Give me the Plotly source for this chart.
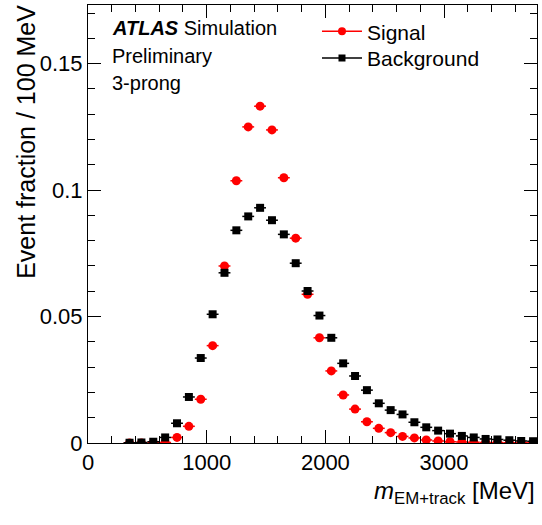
import plotly.graph_objects as go

mass_centers = [350, 450, 550, 650, 750, 850, 950, 1050, 1150, 1250, 1350, 1450,
                1550, 1650, 1750, 1850, 1950, 2050, 2150, 2250, 2350, 2450, 2550,
                2650, 2750, 2850, 2950, 3050, 3150, 3250, 3350, 3450, 3550, 3650, 3750]
bin_half_width = 50

signal = [0.0, 0.0, 0.0001, 0.0002, 0.0022, 0.0066, 0.0173, 0.0385, 0.0700, 0.1037,
          0.1250, 0.1332, 0.1238, 0.1049, 0.0810, 0.0588, 0.0416, 0.0285, 0.0190,
          0.0134, 0.0084, 0.0058, 0.0041, 0.0026, 0.0020, 0.0012, 0.0008, 0.0005,
          0.0004, 0.0003, 0.0002, 0.0002, 0.0001, 0.0001, 0.0001]

background = [0.0001, 0.0002, 0.0005, 0.0022, 0.0078, 0.0182, 0.0336, 0.0509, 0.0673,
              0.0841, 0.0896, 0.0930, 0.0881, 0.0825, 0.0711, 0.0601, 0.0504, 0.0416,
              0.0315, 0.0265, 0.0209, 0.0157, 0.0130, 0.0113, 0.0082, 0.0062, 0.0049,
              0.0037, 0.0028, 0.0022, 0.0016, 0.0014, 0.0011, 0.0008, 0.0007]

FONT = "Liberation Sans, Arial, Helvetica, sans-serif"

fig = go.Figure()

fig.add_trace(go.Scatter(
    x=mass_centers, y=signal, mode="markers", name="Signal", showlegend=False,
    marker=dict(symbol="circle", size=9, color="#ff0000", line=dict(width=0)),
    error_x=dict(type="constant", value=bin_half_width, width=0, thickness=1.5, color="#ff0000"),
))
fig.add_trace(go.Scatter(
    x=mass_centers, y=background, mode="markers", name="Background", showlegend=False,
    marker=dict(symbol="square", size=8, color="black", line=dict(width=0)),
    error_x=dict(type="constant", value=bin_half_width, width=0, thickness=1.5, color="black"),
))
# legend entries (line + marker, as in the reference legend)
fig.add_trace(go.Scatter(
    x=[None], y=[None], mode="lines+markers", name="Signal", legend="legend",
    marker=dict(symbol="circle", size=8, color="#ff0000"),
    line=dict(color="#ff0000", width=1.5),
))
fig.add_trace(go.Scatter(
    x=[None], y=[None], mode="lines+markers", name="Background", legend="legend2",
    marker=dict(symbol="square", size=7, color="black"),
    line=dict(color="black", width=1.5),
))

axis_common = dict(
    showline=True, linecolor="black", linewidth=1, mirror="allticks",
    ticks="inside", ticklen=13, tickwidth=1, tickcolor="black",
    showgrid=False, zeroline=False,
    tickfont=dict(family=FONT, size=22, color="black"),
)

fig.update_xaxes(range=[0, 3783], tick0=0, dtick=1000,
                 minor=dict(dtick=200, ticks="inside", ticklen=7, tickcolor="black", showgrid=False),
                 **axis_common)
fig.update_yaxes(range=[0, 0.1732], tick0=0, dtick=0.05,
                 minor=dict(dtick=0.01, ticks="inside", ticklen=7, tickcolor="black", showgrid=False),
                 **axis_common)

annotations = [
    dict(text="Event fraction / 100 MeV", xref="paper", yref="paper",
         x=-0.138, y=1.005, xanchor="center", yanchor="top", textangle=-90,
         showarrow=False, font=dict(family=FONT, size=25, color="black")),
    dict(text="<i>m</i><sub>EM+track</sub> [MeV]", xref="paper", yref="paper",
         x=1.0, y=-0.112, xanchor="right", yanchor="middle",
         showarrow=False, font=dict(family=FONT, size=24, color="black")),
    dict(text="<b><i>ATLAS</i></b> Simulation", xref="paper", yref="paper",
         x=0.049, y=0.9475, xanchor="left", yanchor="middle",
         showarrow=False, font=dict(family=FONT, size=20, color="black")),
    dict(text="Preliminary", xref="paper", yref="paper",
         x=0.049, y=0.8836, xanchor="left", yanchor="middle",
         showarrow=False, font=dict(family=FONT, size=20, color="black")),
    dict(text="3-prong", xref="paper", yref="paper",
         x=0.049, y=0.822, xanchor="left", yanchor="middle",
         showarrow=False, font=dict(family=FONT, size=20, color="black")),
]

legend_common = dict(xanchor="left", yanchor="middle",
                     bgcolor="rgba(0,0,0,0)", borderwidth=0,
                     font=dict(family=FONT, size=21, color="black"),
                     itemwidth=40)

fig.update_layout(
    width=542, height=525,
    margin=dict(l=88, r=5, t=5, b=82),
    paper_bgcolor="white", plot_bgcolor="white",
    annotations=annotations,
    legend=dict(x=0.51, y=(443 - 31.7) / 438, **legend_common),
    legend2=dict(x=0.51, y=(443 - 58.3) / 438, **legend_common),
    showlegend=True,
)

fig.write_html("out.html", config={"displayModeBar": False},
               post_script="document.body.style.margin='0';")
